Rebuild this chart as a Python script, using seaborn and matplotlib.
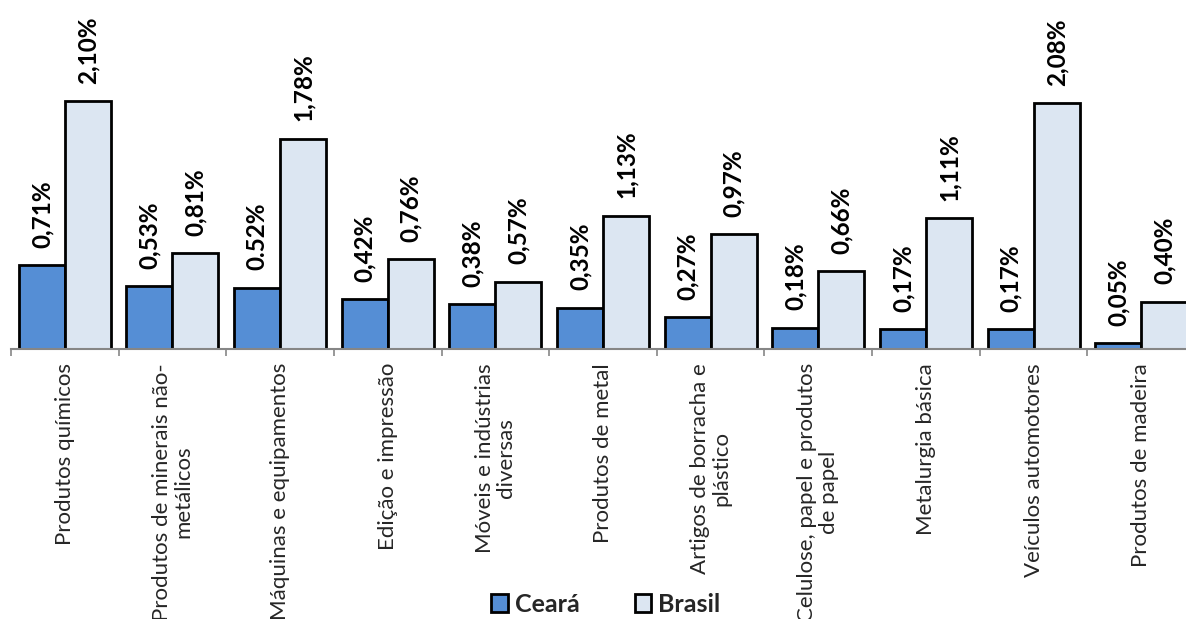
import matplotlib
matplotlib.use("Agg")
import matplotlib.pyplot as plt
import seaborn as sns
import pandas as pd
import numpy as np
from matplotlib.ticker import FixedLocator

categories = [
    "Produtos químicos",
    "Produtos de minerais não-\nmetálicos",
    "Máquinas e equipamentos",
    "Edição e impressão",
    "Móveis e indústrias\ndiversas",
    "Produtos de metal",
    "Artigos de borracha e\nplástico",
    "Celulose, papel e produtos\nde papel",
    "Metalurgia básica",
    "Veículos automotores",
    "Produtos de madeira",
]
ceara = [0.71, 0.53, 0.52, 0.42, 0.38, 0.35, 0.27, 0.18, 0.17, 0.17, 0.05]
brasil = [2.10, 0.81, 1.78, 0.76, 0.57, 1.13, 0.97, 0.66, 1.11, 2.08, 0.40]
ceara_labels = ["0,71%", "0,53%", "0.52%", "0,42%", "0,38%", "0,35%", "0,27%", "0,18%", "0,17%", "0,17%", "0,05%"]
brasil_labels = ["2,10%", "0,81%", "1,78%", "0,76%", "0,57%", "1,13%", "0,97%", "0,66%", "1,11%", "2,08%", "0,40%"]
series = ["Ceará", "Brasil"]

df = pd.DataFrame({
    "cat": categories * 2,
    "serie": [series[0]] * len(categories) + [series[1]] * len(categories),
    "val": ceara + brasil,
})

sns.set_style("white")
plt.rcParams["font.family"] = ["Lato", "DejaVu Sans"]

W, H = 1186, 619
fig = plt.figure(figsize=(W / 100, H / 100), dpi=100)
left_px, right_px, base_px = 11, 1195, 349
ax = fig.add_axes([left_px / W, (H - base_px) / H, (right_px - left_px) / W, base_px / H])

palette = {"Ceará": "#558ED5", "Brasil": "#DCE6F2"}
sns.barplot(data=df, x="cat", y="val", hue="serie", order=categories,
            hue_order=series, palette=palette, width=0.855, edgecolor="black",
            linewidth=2.0, saturation=1, ax=ax)

scale = 248 / 2.10
ax.set_ylim(0, base_px / scale)
ax.set_xlim(-0.5, len(categories) - 0.5)

for cont, labs in zip(ax.containers, [ceara_labels, brasil_labels]):
    for bar, lab in zip(cont, labs):
        x = bar.get_x() + bar.get_width() / 2
        y = bar.get_height()
        ax.annotate(lab, (x, y), xytext=(0, 12.5), textcoords="offset points",
                    rotation=90, ha="center", va="bottom", fontsize=17.5,
                    fontweight="bold", color="black")

for s in ["top", "right", "left"]:
    ax.spines[s].set_visible(False)
ax.spines["bottom"].set_color("#868686")
ax.spines["bottom"].set_linewidth(1.5)
ax.set_yticks([])
ax.set_xlabel("")
ax.set_ylabel("")

ax.set_xticks(range(len(categories)))
ax.set_xticklabels(categories, rotation=90, ha="center", va="top",
                   multialignment="center", fontsize=16, linespacing=1.1)
ax.tick_params(axis="x", which="major", length=0, pad=10)
ax.xaxis.set_minor_locator(FixedLocator(np.arange(-0.5, len(categories), 1.0)))
ax.tick_params(axis="x", which="minor", length=5, width=1.2, color="#868686",
               direction="out", bottom=True)

handles, labels = ax.get_legend_handles_labels()
ax.legend_.remove()
fig.legend(handles, labels, loc="center", bbox_to_anchor=(606 / W, 1 - 604 / H),
           ncol=2, frameon=False, prop={"weight": "bold", "size": 18},
           handlelength=0.65, handleheight=0.7, handletextpad=0.3,
           columnspacing=2.2, borderpad=0.1)

fig.savefig("out.png", dpi=100)
